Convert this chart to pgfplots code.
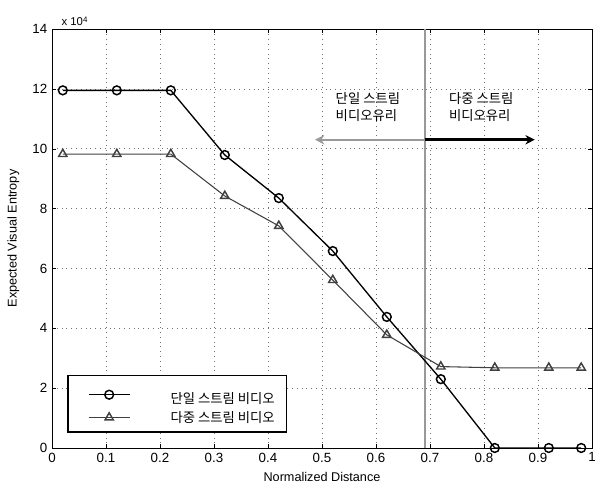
\documentclass[border=0pt]{standalone}
\usepackage{pgfplots}
\pgfplotsset{compat=1.18}
\usepackage{fontspec}
\setmainfont{Liberation Sans}
\newfontfamily\kr{Noto Sans CJK KR}
\usetikzlibrary{arrows.meta}
\begin{document}
\begin{tikzpicture}
\begin{axis}[
  scale only axis,
  width=405pt, height=314.25pt,
  xmin=0, xmax=1, ymin=0, ymax=14,
  xtick={0,0.1,...,1.01},
  xticklabels={0,0.1,0.2,0.3,0.4,0.5,0.6,0.7,0.8,0.9,1},
  ytick={0,2,4,6,8,10,12,14},
  tick align=inside,
  major tick length=3pt,
  grid=major,
  major grid style={black!55, line width=0.5pt, dash pattern=on 0.6pt off 3pt},
  axis line style={black, line width=0.7pt},
  tick style={black},
  ticklabel style={font=\fontsize{10}{12}\selectfont},
  /pgf/number format/assume math mode=true,
  xlabel={Normalized Distance},
  ylabel={Expected Visual Entropy},
  label style={font=\fontsize{9.5}{11}\selectfont},
  xlabel style={yshift=-1pt},
  ylabel style={yshift=3pt},
  legend style={at={(axis cs:0.028,2.44)}, anchor=north west, draw=black, line width=1.1pt,
    font=\kr\fontsize{10}{12}\selectfont, inner xsep=7pt, inner ysep=4pt,
    /tikz/every even column/.append style={column sep=0pt}},
  legend cell align=left,
  legend image code/.code={\path (0pt,0pt); \draw[#1] (8pt,0cm) -- (39pt,0cm); \draw[#1, only marks] plot coordinates {(23.5pt,0cm)};},
  clip=false,
  name=ax,
]
\coordinate (bl) at (rel axis cs:0,0);
\coordinate (tr) at (rel axis cs:1,1);
\draw[black!40, line width=1.6pt] (axis cs:0.69,0) -- (axis cs:0.69,14);
\addplot[black, line width=1pt, mark=o, mark size=3.3pt, mark options={line width=1.1pt}] coordinates {
(0.02,11.95) (0.12,11.95) (0.22,11.95) (0.32,9.79) (0.42,8.35) (0.52,6.58) (0.62,4.38) (0.72,2.3) (0.82,0) (0.92,0) (0.98,0)};
\addplot[black!75, line width=0.8pt, mark=triangle, mark size=3.6pt, mark options={line width=1.1pt}] coordinates {
(0.02,9.82) (0.12,9.82) (0.22,9.82) (0.32,8.42) (0.42,7.42) (0.52,5.61) (0.62,3.78) (0.72,2.72) (0.82,2.68) (0.92,2.68) (0.98,2.68)};
\legend{{\rule{0pt}{15pt}\hspace{28pt}단일 스트림 비디오},{\rule[-4pt]{0pt}{12pt}\hspace{28pt}다중 스트림 비디오}}
\draw[black!40, line width=1.5pt, -{Stealth[length=7pt,width=7pt,open]}] (axis cs:0.69,10.3) -- (axis cs:0.487,10.3);
\draw[black, line width=2pt, -{Stealth[length=7pt,width=7pt]}] (axis cs:0.69,10.3) -- (axis cs:0.894,10.3);
\node[font=\kr\fontsize{10}{13}\selectfont, align=left] at (axis cs:0.585,11.4) {단일 스트림\\비디오유리};
\node[font=\kr\fontsize{10}{13}\selectfont, align=left] at (axis cs:0.795,11.4) {다중 스트림\\비디오유리};
\node[anchor=south west, font=\fontsize{8.5}{10}\selectfont, inner sep=1pt] at ([xshift=6pt,yshift=1pt]axis cs:0,14) {x 10\textsuperscript{4}};
\end{axis}
\pgfresetboundingbox
\path ([xshift=-39pt,yshift=-29.25pt]bl) rectangle ([xshift=6.75pt,yshift=21.75pt]tr);
\end{tikzpicture}
\end{document}
